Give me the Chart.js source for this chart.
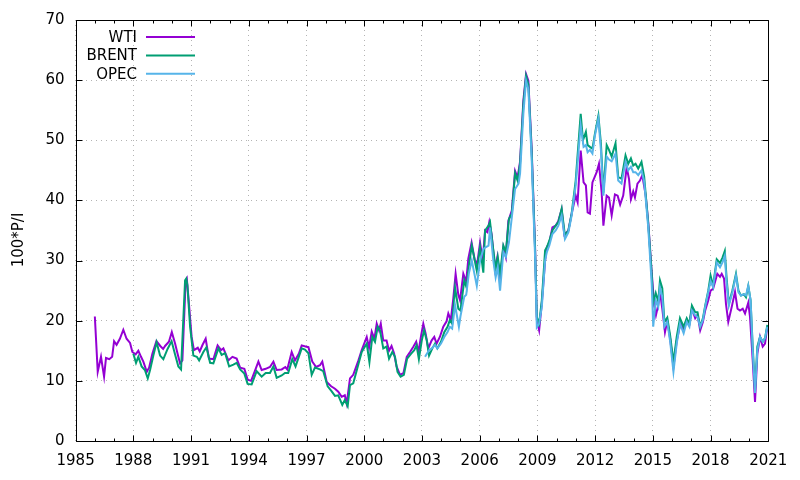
<!DOCTYPE html>
<html>
<head>
<meta charset="utf-8">
<script src="https://cdn.jsdelivr.net/npm/chart.js@4/dist/chart.umd.min.js"></script>
<style>
  html, body { margin: 0; padding: 0; background: #fff; }
  #wrap { width: 800px; height: 480px; }
</style>
</head>
<body>
<div id="wrap"><canvas id="myChart"></canvas></div>
<script>
// values (decimal years / 100*P/I)
let wtiYears = [1986.0,1986.15,1986.32,1986.48,1986.58,1986.75,1986.9,1987.0,1987.13,1987.3,1987.48,1987.65,1987.83,1987.95,
  1988.12,1988.26,1988.4,1988.52,1988.7,1988.82,1988.99,1989.2,1989.4,1989.55,1989.65,1989.85,1990.0,1990.17,1990.3,1990.43,
  1990.55,1990.72,1990.78,1990.86,1991.03,1991.15,1991.35,1991.45,1991.6,1991.76,1991.93,1992.16,1992.38,1992.56,1992.68,
  1992.94,1993.15,1993.37,1993.55,1993.77,1993.94,1994.12,1994.3,1994.5,1994.67,1994.88,1995.1,1995.28,1995.45,1995.71,
  1995.9,1996.0,1996.23,1996.4,1996.6,1996.75,1996.95,1997.1,1997.3,1997.5,1997.7,1997.82,1998.05,1998.28,1998.48,1998.65,
  1998.83,1998.99,1999.09,1999.26,1999.43,1999.7,1999.87,2000.13,2000.25,2000.39,2000.53,2000.65,2000.77,2000.86,2000.99,
  2001.16,2001.29,2001.42,2001.55,2001.68,2001.86,2002.04,2002.21,2002.38,2002.56,2002.7,2002.82,2002.96,2003.07,2003.19,
  2003.33,2003.5,2003.64,2003.76,2003.93,2004.11,2004.28,2004.37,2004.5,2004.63,2004.75,2004.89,2004.98,2005.15,2005.3,
  2005.41,2005.58,2005.75,2005.87,2006.02,2006.16,2006.28,2006.4,2006.5,2006.62,2006.8,2006.92,2007.06,2007.23,2007.36,
  2007.49,2007.67,2007.84,2007.97,2008.1,2008.27,2008.41,2008.53,2008.7,2008.88,2008.97,2009.09,2009.23,2009.4,2009.49,
  2009.62,2009.78,2009.95,2010.09,2010.26,2010.4,2010.61,2010.78,2010.99,2011.09,2011.25,2011.4,2011.52,2011.61,2011.73,
  2011.86,2012.08,2012.2,2012.34,2012.43,2012.6,2012.72,2012.86,2013.03,2013.17,2013.3,2013.46,2013.64,2013.76,2013.86,
  2013.98,2014.07,2014.2,2014.33,2014.45,2014.63,2014.76,2014.94,2015.07,2015.16,2015.28,2015.37,2015.49,2015.63,2015.75,
  2015.9,2016.07,2016.24,2016.45,2016.6,2016.76,2016.9,2017.03,2017.2,2017.32,2017.46,2017.6,2017.72,2017.88,2018.0,
  2018.13,2018.35,2018.49,2018.58,2018.7,2018.8,2018.92,2019.1,2019.27,2019.4,2019.53,2019.67,2019.79,2019.96,2020.05,
  2020.19,2020.31,2020.43,2020.57,2020.71,2020.83,2020.95];
let wtiValues = [20.7,11.5,14.0,10.7,13.8,13.6,14.0,16.6,16.0,17.0,18.5,17.0,16.3,14.8,
  14.4,15.0,14.0,13.2,11.5,12.2,14.5,16.6,15.8,15.3,15.8,16.5,18.1,16.2,14.5,12.9,
  13.4,26.6,27.0,24.0,17.3,15.1,15.5,14.9,16.0,17.0,13.7,13.6,15.9,15.1,15.4,
  13.4,14.0,13.7,12.2,12.0,10.2,10.0,11.5,13.2,11.8,12.0,12.3,13.2,11.8,11.9,
  12.3,11.9,14.8,13.4,14.5,15.9,15.7,15.6,13.2,12.3,12.6,13.2,9.8,9.1,8.7,8.2,
  7.35,7.6,6.25,10.4,11.0,13.4,15.1,17.3,15.5,18.2,17.0,19.5,18.4,19.5,16.7,
  16.7,15.0,15.8,14.6,12.4,11.0,11.3,14.0,14.8,15.7,16.5,14.8,17.6,19.5,17.9,
  15.4,16.7,17.3,16.2,17.3,19.0,19.9,21.2,20.1,23.7,27.8,24.3,23.4,27.8,26.5,
  30.3,33.0,30.0,29.4,33.0,30.0,35.0,34.7,36.4,34.4,28.6,30.6,26.7,32.2,30.6,
  36.6,38.3,44.9,43.8,46.5,56.6,61.0,59.9,48.8,32.2,20.1,18.4,22.9,30.0,32.2,
  33.0,35.5,35.8,36.6,38.5,34.3,35.0,37.8,40.8,39.7,48.3,43.0,42.5,38.0,37.8,
  43.0,44.7,46.1,41.3,35.8,40.8,40.5,37.5,41.0,40.8,39.3,40.8,45.5,43.6,40.2,
  41.5,40.5,42.8,43.3,44.2,40.8,36.4,28.1,22.5,20.9,22.6,24.8,22.0,18.1,20.0,
  17.0,12.3,16.6,19.8,18.4,20.1,19.5,22.0,20.4,21.0,18.4,19.8,21.7,23.4,25.0,
  25.3,27.8,27.3,27.8,27.0,22.8,19.8,22.3,24.8,22.0,21.7,22.0,21.2,23.0,20.6,
  13.4,6.5,14.5,17.3,15.7,16.2,19.0];

let brentYears = [1988.0,1988.14,1988.26,1988.43,1988.6,1988.75,1988.87,1989.04,1989.21,1989.39,1989.56,1989.78,1989.99,
  1990.17,1990.34,1990.48,1990.69,1990.75,1990.81,1990.95,1991.12,1991.3,1991.42,1991.64,1991.8,1991.99,1992.16,1992.42,
  1992.59,1992.77,1992.98,1993.2,1993.37,1993.55,1993.77,1993.94,1994.15,1994.41,1994.67,1994.88,1995.1,1995.28,1995.45,
  1995.71,1995.88,1996.05,1996.26,1996.43,1996.75,1996.92,1997.1,1997.27,1997.44,1997.7,1997.87,1998.1,1998.3,1998.48,
  1998.65,1998.86,1998.99,1999.14,1999.26,1999.43,1999.7,1999.87,2000.13,2000.27,2000.42,2000.56,2000.7,2000.82,2000.99,
  2001.16,2001.29,2001.46,2001.6,2001.73,2001.89,2002.06,2002.23,2002.43,2002.6,2002.72,2002.84,2002.99,2003.11,2003.25,
  2003.37,2003.54,2003.68,2003.8,2003.99,2004.16,2004.33,2004.45,2004.57,2004.72,2004.89,2005.0,2005.2,2005.32,2005.44,
  2005.59,2005.85,2006.02,2006.19,2006.28,2006.46,2006.54,2006.66,2006.83,2006.94,2007.06,2007.23,2007.36,2007.52,2007.67,
  2007.84,2007.97,2008.1,2008.27,2008.41,2008.53,2008.7,2008.88,2008.97,2009.09,2009.23,2009.4,2009.49,2009.62,2009.78,
  2009.95,2010.09,2010.26,2010.43,2010.61,2010.78,2010.99,2011.25,2011.37,2011.52,2011.61,2011.73,2011.86,2011.99,2012.17,
  2012.3,2012.43,2012.6,2012.72,2012.86,2013.06,2013.2,2013.37,2013.58,2013.72,2013.86,2013.98,2014.1,2014.24,2014.41,
  2014.55,2014.76,2014.94,2015.02,2015.15,2015.28,2015.37,2015.49,2015.6,2015.75,2015.9,2016.07,2016.24,2016.41,2016.6,
  2016.76,2016.9,2017.03,2017.2,2017.32,2017.46,2017.6,2017.72,2017.88,2018.0,2018.13,2018.32,2018.49,2018.62,2018.74,
  2018.83,2018.95,2019.13,2019.32,2019.45,2019.58,2019.73,2019.84,2019.96,2020.08,2020.19,2020.31,2020.43,2020.57,2020.71,
  2020.83,2020.95];
let brentValues = [14.5,13.0,14.0,12.4,11.8,10.4,11.8,14.2,16.4,14.2,13.6,15.3,16.6,
  14.4,12.4,11.9,26.7,27.0,25.9,19.0,14.2,14.0,13.4,14.8,15.6,13.0,12.9,15.4,
  14.3,14.6,12.4,12.7,13.0,11.9,11.2,9.5,9.4,11.6,10.7,11.3,11.3,12.4,10.5,
  10.9,11.3,11.3,13.6,12.4,15.4,15.2,14.6,11.0,12.2,11.9,11.6,9.1,8.3,7.5,
  7.6,6.0,6.8,5.8,9.3,9.6,12.8,14.8,16.2,13.1,17.3,16.5,19.0,18.4,15.4,
  15.7,13.7,14.8,14.0,11.5,10.7,11.0,13.7,14.5,15.1,15.9,13.6,16.7,18.4,16.7,
  14.2,15.4,16.2,15.4,16.5,18.1,19.0,20.1,19.5,25.5,22.0,21.7,26.7,25.5,29.2,
  32.5,28.3,32.2,28.0,35.0,35.8,36.4,33.0,28.6,30.6,27.8,32.5,31.4,36.9,37.8,
  44.5,43.3,46.1,56.0,60.7,59.3,48.2,31.7,20.6,19.5,23.4,31.7,32.2,33.3,35.0,
  35.8,36.4,38.6,34.2,35.0,37.8,43.3,54.4,50.0,51.4,49.2,48.9,48.6,51.1,54.1,
  49.5,41.3,49.2,48.4,47.3,49.5,43.9,43.6,47.5,46.1,47.0,45.8,46.1,45.3,46.4,
  43.9,36.1,27.8,23.0,24.6,23.2,26.7,25.4,19.8,20.5,17.5,13.1,17.3,20.4,19.0,
  20.4,19.5,22.5,21.4,21.4,19.0,20.4,22.5,25.0,27.5,25.8,30.2,29.6,30.5,31.6,
  27.2,22.8,25.0,27.8,25.0,24.2,24.4,23.9,25.8,23.4,15.7,8.5,15.7,17.3,16.5,
  17.1,19.3];

let opecYears = [2003.16,2003.37,2003.51,2003.68,2003.8,2003.99,2004.16,2004.33,2004.45,2004.57,2004.72,2004.92,2005.0,
  2005.2,2005.3,2005.44,2005.59,2005.85,2006.02,2006.19,2006.3,2006.46,2006.54,2006.71,2006.83,2006.94,2007.06,2007.23,
  2007.36,2007.52,2007.67,2007.84,2008.02,2008.1,2008.27,2008.41,2008.53,2008.7,2008.88,2008.97,2009.09,2009.23,2009.4,
  2009.49,2009.62,2009.78,2009.95,2010.09,2010.26,2010.43,2010.61,2010.78,2010.99,2011.25,2011.4,2011.52,2011.61,2011.73,
  2011.86,2011.99,2012.17,2012.3,2012.43,2012.6,2012.72,2012.86,2013.06,2013.2,2013.37,2013.58,2013.72,2013.86,2013.98,
  2014.1,2014.24,2014.41,2014.55,2014.76,2014.94,2015.02,2015.15,2015.28,2015.37,2015.49,2015.6,2015.75,2015.9,2016.07,
  2016.24,2016.41,2016.6,2016.76,2016.9,2017.03,2017.2,2017.32,2017.46,2017.6,2017.72,2017.88,2018.0,2018.13,2018.32,
  2018.49,2018.62,2018.74,2018.83,2018.95,2019.13,2019.32,2019.45,2019.58,2019.73,2019.84,2019.96,2020.08,2020.19,2020.31,
  2020.43,2020.57,2020.71,2020.83,2020.95];
let opecValues = [14.0,15.1,15.4,16.0,15.4,16.2,17.3,18.1,19.0,18.7,22.6,19.0,20.7,
  24.0,24.3,27.9,30.0,25.8,30.0,31.9,32.2,32.5,35.5,30.0,27.2,28.9,25.0,31.4,
  30.6,33.0,37.2,41.9,42.8,44.5,54.4,59.9,58.5,47.1,30.6,18.9,19.5,22.3,30.0,
  31.4,32.5,34.4,35.0,35.8,37.5,33.6,34.7,37.5,42.5,52.5,48.9,49.2,48.0,48.4,
  47.8,50.8,53.6,48.4,40.8,47.3,46.8,46.5,47.8,43.3,42.8,46.4,45.0,45.6,44.7,
  44.7,44.2,45.0,43.1,35.5,26.1,19.0,23.4,22.3,25.5,24.0,19.0,19.8,16.5,11.5,
  16.2,19.5,17.9,19.8,19.0,21.7,20.9,20.6,19.0,20.1,22.3,24.8,26.6,25.6,29.7,
  28.9,29.7,30.8,26.4,22.5,24.7,27.5,24.7,24.2,24.4,24.2,25.8,23.4,15.1,8.0,
  15.1,17.3,16.5,17.1,19.0];

let seriesNames = ['WTI', 'BRENT', 'OPEC'];
let seriesColors = ['#9400d3', '#009e73', '#56b4e9'];
let xTicks = [1985, 1988, 1991, 1994, 1997, 2000, 2003, 2006, 2009, 2012, 2015, 2018, 2021];
let yTicks = [0, 10, 20, 30, 40, 50, 60, 70];

const FONT = '"DejaVu Sans", sans-serif';

function toPoints(xs, ys) {
    let pts = [];
    for (let i = 0; i < xs.length; i++) {
        pts.push({x: xs[i], y: ys[i]});
    }
    return pts;
}

// gnuplot style frame, mirrored inward ticks, legend and y label
const gnuplotFrame = {
    id: 'gnuplotFrame',
    afterDraw(chart) {
        const ctx = chart.ctx;
        const a = chart.chartArea;
        const x = chart.scales.x, y = chart.scales.y;
        const L = Math.round(a.left) + 0.5, R = Math.round(a.right) + 0.5;
        const T = Math.round(a.top) + 0.5, B = Math.round(a.bottom) + 0.5;
        ctx.save();
        ctx.strokeStyle = '#000';
        ctx.lineWidth = 1;
        ctx.beginPath();
        ctx.rect(L, T, R - L, B - T);
        for (let yr = xTicks[0]; yr <= xTicks[xTicks.length - 1]; yr++) {
            let px = Math.round(x.getPixelForValue(yr)) + 0.5;
            let len = xTicks.includes(yr) ? 6 : 3;
            ctx.moveTo(px, B); ctx.lineTo(px, B - len);
            ctx.moveTo(px, T); ctx.lineTo(px, T + len);
        }
        yTicks.forEach(v => {
            let py = Math.round(y.getPixelForValue(v)) + 0.5;
            ctx.moveTo(L, py); ctx.lineTo(L + 6, py);
            ctx.moveTo(R, py); ctx.lineTo(R - 6, py);
        });
        ctx.stroke();

        // legend
        ctx.font = '15px ' + FONT;
        ctx.textAlign = 'right';
        ctx.textBaseline = 'middle';
        ctx.fillStyle = '#000';
        seriesNames.forEach((name, i) => {
            let ly = 37 + i * 18.4;
            ctx.fillText(name, 137, ly + 1);
            ctx.strokeStyle = seriesColors[i];
            ctx.lineWidth = 2;
            ctx.beginPath();
            ctx.moveTo(146, ly); ctx.lineTo(195, ly);
            ctx.stroke();
        });

        // y axis label
        ctx.translate(19, 240);
        ctx.rotate(-Math.PI / 2);
        ctx.textAlign = 'center';
        ctx.fillText('100*P/I', 0, 0);
        ctx.restore();
    }
};

function generateChart(id) {
    let ctx = document.getElementById(id).getContext('2d');
    let datasets = [
        {label: seriesNames[0], data: toPoints(wtiYears, wtiValues), order: 2},
        {label: seriesNames[1], data: toPoints(brentYears, brentValues), order: 1},
        {label: seriesNames[2], data: toPoints(opecYears, opecValues), order: 0},
    ];
    datasets.forEach((d, i) => {
        d.borderColor = seriesColors[i];
        d.backgroundColor = seriesColors[i];
        d.borderWidth = 2;
        d.pointRadius = 0;
        d.tension = 0;
        d.fill = false;
    });
    return new Chart(ctx, {
        type: 'line',
        data: {datasets: datasets},
        options: {
            responsive: true,
            maintainAspectRatio: false,
            animation: false,
            layout: {padding: {top: 19, right: 31.7, left: 0, bottom: 0}},
            plugins: {legend: {display: false}, tooltip: {enabled: false}},
            scales: {
                x: {
                    type: 'linear',
                    min: 1985,
                    max: 2021,
                    afterBuildTicks: s => { s.ticks = xTicks.map(v => ({value: v})); },
                    afterFit: s => { s.height = 39; },
                    ticks: {
                        callback: v => String(v),
                        color: '#000',
                        font: {family: FONT, size: 15},
                        padding: 11,
                        maxRotation: 0,
                        autoSkip: false
                    },
                    grid: {color: '#b4b4b4', lineWidth: 1, drawTicks: false},
                    border: {display: false, dash: [1, 4]}
                },
                y: {
                    min: 0,
                    max: 70,
                    afterBuildTicks: s => { s.ticks = yTicks.map(v => ({value: v})); },
                    afterFit: s => { s.width = 75.6; },
                    ticks: {
                        color: '#000',
                        font: {family: FONT, size: 15},
                        padding: 11
                    },
                    grid: {color: '#b4b4b4', lineWidth: 1, drawTicks: false},
                    border: {display: false, dash: [1, 4]}
                }
            }
        },
        plugins: [gnuplotFrame]
    });
}

generateChart('myChart');
</script>
</body>
</html>
